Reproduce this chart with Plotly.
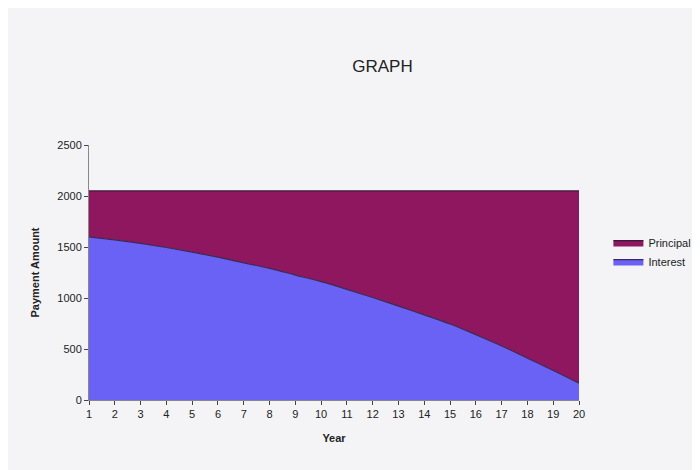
import plotly.graph_objects as go

years = list(range(1, 21))
interest = [1600, 1570, 1535, 1495, 1450, 1400, 1345, 1290, 1225, 1160,
            1085, 1005, 920, 835, 745, 640, 530, 410, 290, 165]
payment = 2050
principal = [payment - i for i in interest]

fig = go.Figure()
fig.add_trace(go.Scatter(x=years, y=interest, name="Interest", stackgroup="a",
                         mode="lines", line=dict(color="#3a2a55", width=1.2, shape="spline"),
                         fillcolor="#6a62f5"))
fig.add_trace(go.Scatter(x=years, y=principal, name="Principal", stackgroup="a",
                         mode="lines", line=dict(color="#3a1a3a", width=1.2, shape="spline"),
                         fillcolor="#8e1760"))
fig.update_layout(
    width=700, height=470, paper_bgcolor="#f4f4f6", plot_bgcolor="#f4f4f6",
    margin=dict(l=81, r=102, t=137, b=78),
    title=dict(text="GRAPH", x=0.535, y=0.89, font=dict(family="Liberation Sans", size=17, color="#222")),
    font=dict(family="Liberation Sans", size=11, color="#222"),
    legend=dict(x=1.06, y=0.58, traceorder="reversed", font=dict(size=11), bgcolor="rgba(0,0,0,0)"),
    xaxis=dict(range=[1, 20], tickvals=years, showgrid=False, showline=True, linecolor="#888",
               ticks="outside", ticklen=4, title=dict(text="<b>Year</b>", font=dict(size=11))),
    yaxis=dict(range=[0, 2500], dtick=500, showgrid=False, showline=True, linecolor="#888",
               ticks="outside", ticklen=4, zeroline=False,
               title=dict(text="<b>Payment Amount</b>", font=dict(size=11))),
)
fig.write_html("out.html")
